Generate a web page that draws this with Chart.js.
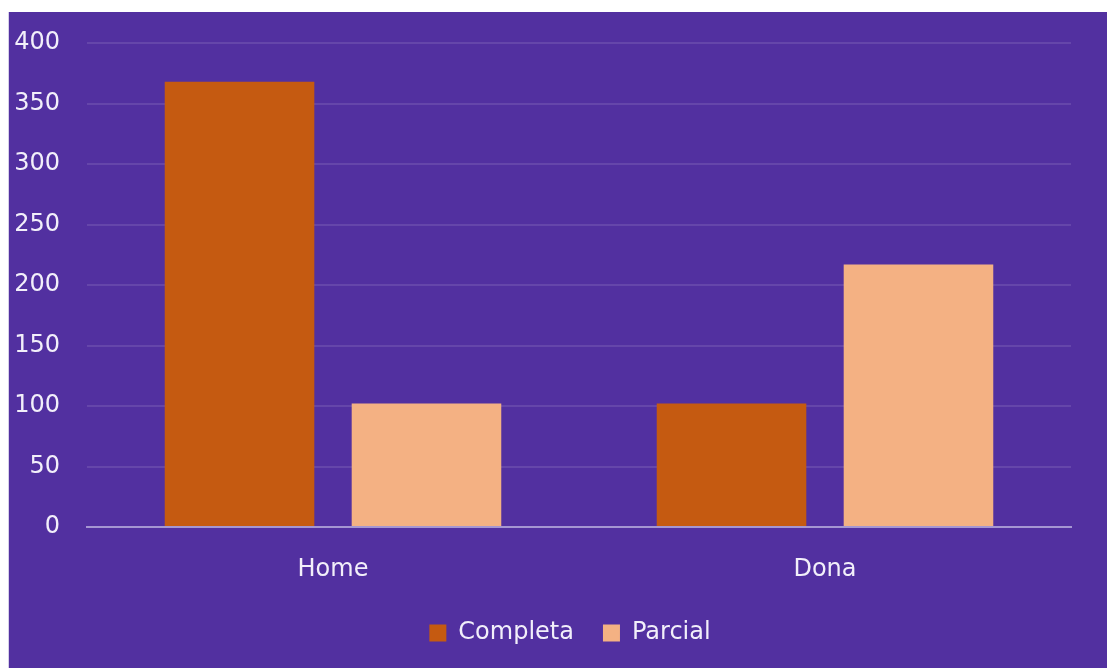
<!DOCTYPE html>
<html>
<head>
<meta charset="utf-8">
<script src="https://cdn.jsdelivr.net/npm/chart.js@4/dist/chart.umd.min.js"></script>
<style>
  html, body { margin: 0; padding: 0; background: #fff; overflow: hidden; }
  #wrap {
    position: absolute; left: 8px; top: 12px;
    width: 1098px; height: 680px;
    background: #5230A0;
    border-left: 1px solid #d6cfea;
  }
</style>
</head>
<body>
<div id="wrap"><canvas id="chart"></canvas></div>
<script>
const categories = ["Home", "Dona"];
const completa = [368, 102];
const parcial = [102, 217];
const seriesNames = ["Completa", "Parcial"];
const yTicks = [0, 400, 50]; // min, max, step

const font = { family: "'DejaVu Sans', sans-serif", size: 24 };
const textColor = "#f2effa";

const data = {
  labels: categories,
  datasets: [
    {
      label: seriesNames[0],
      data: completa,
      backgroundColor: "#C55A11",
      categoryPercentage: 0.76,
      barPercentage: 0.8,
    },
    {
      label: seriesNames[1],
      data: parcial,
      backgroundColor: "#F4B183",
      categoryPercentage: 0.76,
      barPercentage: 0.8,
    },
  ],
};

// the legend in the original sits a bit right of the canvas centre
const legendShift = {
  id: "legendShift",
  afterLayout(chart) {
    chart.legend.left += 30;
    chart.legend.right += 30;
  },
};

const config = {
  type: "bar",
  data: data,
  plugins: [legendShift],
  options: {
    responsive: true,
    maintainAspectRatio: false,
    animation: false,
    layout: { padding: { left: 0, top: 31, right: 36, bottom: 37 } },
    plugins: {
      tooltip: { enabled: false },
      legend: {
        position: "bottom",
        labels: {
          color: textColor,
          font: font,
          boxWidth: 17,
          boxHeight: 17,
          padding: 29,
        },
      },
    },
    scales: {
      x: {
        grid: { display: false, drawTicks: false },
        border: { display: true, color: "#a596d2", width: 2 },
        ticks: { color: textColor, font: font, padding: 28 },
        afterFit: (scale) => { scale.height = 65; },
      },
      y: {
        min: yTicks[0],
        max: yTicks[1],
        grid: { color: "rgba(255,255,255,0.11)", lineWidth: 2, drawTicks: false },
        border: { display: false },
        ticks: { color: textColor, font: font, stepSize: yTicks[2], padding: 27 },
        afterFit: (scale) => {
          scale.width = 78;
          scale.paddingTop = 0;
          scale.paddingBottom = 0;
        },
      },
    },
  },
};

const ctx = document.getElementById("chart").getContext("2d");
new Chart(ctx, config);
</script>
</body>
</html>
